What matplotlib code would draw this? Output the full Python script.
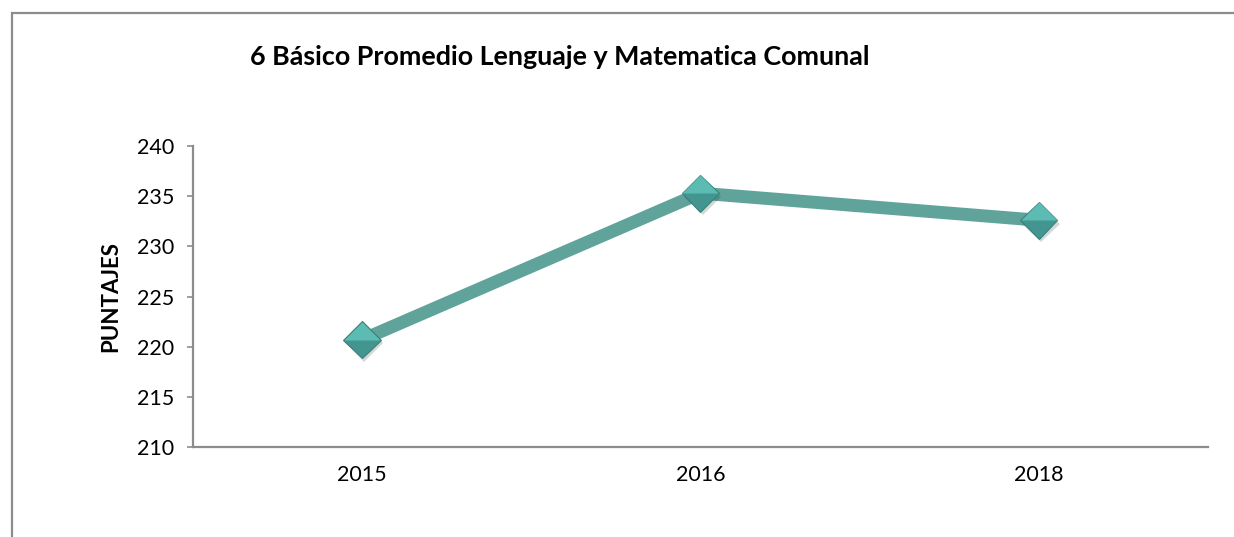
import matplotlib
matplotlib.use('Agg')
import matplotlib.pyplot as plt
import matplotlib.patheffects as pe
from matplotlib.patches import Rectangle

years = ['2015', '2016', '2018']
puntajes = [220.7, 235.3, 232.6]
yticks = [210, 215, 220, 225, 230, 235, 240]

plt.rcParams['font.family'] = ['Lato', 'DejaVu Sans']

fig = plt.figure(figsize=(12.34, 5.37), dpi=100)

# outer chart frame (runs off the right and bottom edge)
fig.patches.append(Rectangle((12 / 1234, -0.05), 1.1, 1 - 13 / 537 + 0.05,
                             transform=fig.transFigure, fill=False,
                             edgecolor='#8c8c8c', lw=1.6))

ax = fig.add_axes([0.1564, 0.1676, 0.8225, 0.5605])
x = list(range(len(years)))

ax.plot(x, puntajes, color='#5fa39b', lw=9.3, solid_capstyle='butt', zorder=2)
# diamond markers with a little shading
ax.plot(x, puntajes, ls='none', marker='D', ms=19, mfc='#43958f', mec='#3a807b',
        mew=0.8, zorder=3,
        path_effects=[pe.SimplePatchShadow(offset=(1.5, -2.5), alpha=0.18), pe.Normal()])
ax.plot(x, puntajes, ls='none', marker=[(-1, 0), (0, 1), (1, 0)], ms=26,
        mfc='#5cbcb4', mec='none', zorder=4)

ax.set_xlim(-0.5, len(years) - 0.5)
ax.set_ylim(210, 240)
ax.set_xticks(x)
ax.set_xticklabels(years)
ax.set_yticks(yticks)

for s in ['top', 'right']:
    ax.spines[s].set_visible(False)
for s in ['left', 'bottom']:
    ax.spines[s].set_color('#8c8c8c')
    ax.spines[s].set_linewidth(1.6)

ax.tick_params(axis='y', length=4.5, width=1.2, color='#8c8c8c', pad=9, labelsize=15.5)
ax.tick_params(axis='x', length=0, pad=13, labelsize=15.5)

ax.set_ylabel('PUNTAJES', fontsize=16, fontweight='bold')
ax.yaxis.set_label_coords(-0.071, 0.5)

fig.text(0.454, 0.894, '6 Básico Promedio Lenguaje y Matematica Comunal',
         ha='center', va='center', fontsize=19.4, fontweight='bold')

fig.savefig('out.png', dpi=100)
